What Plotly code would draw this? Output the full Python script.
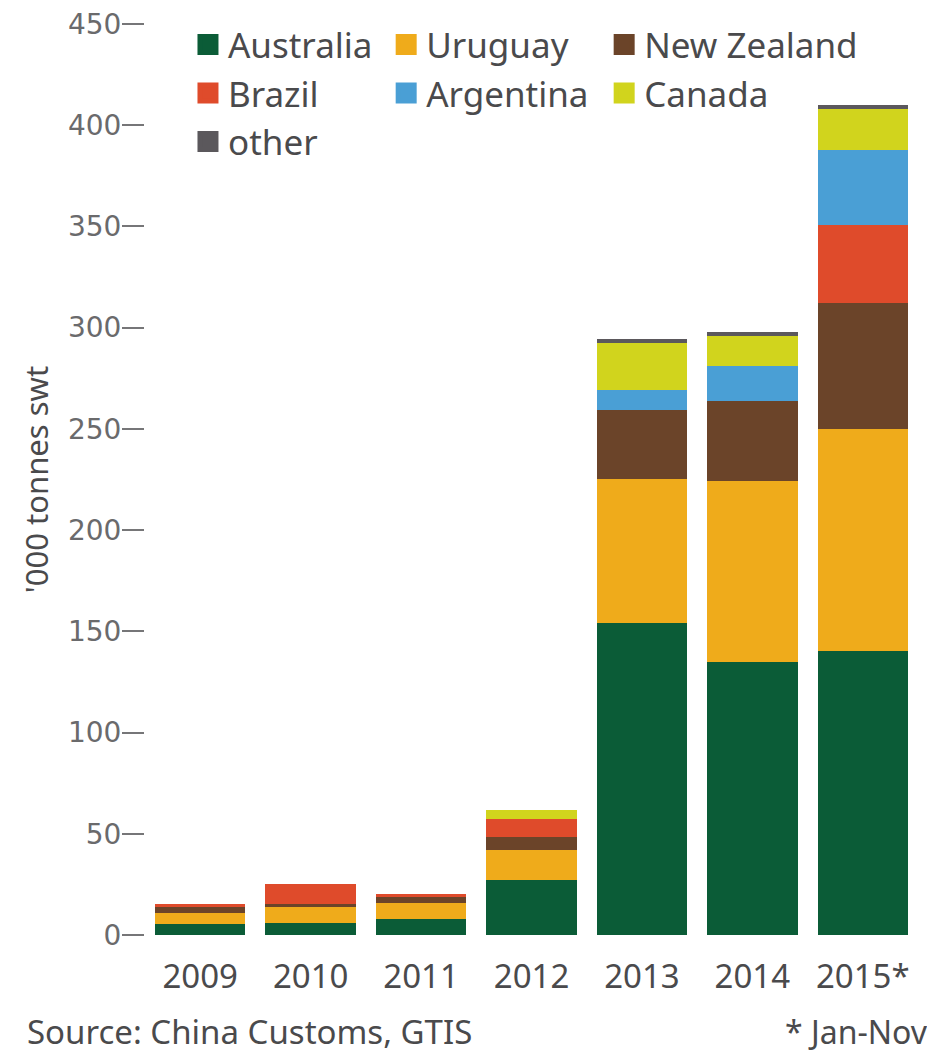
import plotly.graph_objects as go

# China imports by origin, '000 tonnes swt
years = ["2009", "2010", "2011", "2012", "2013", "2014", "2015*"]
australia = [5.4, 5.9, 7.7, 27.2, 154.3, 135.0, 140.3]
uruguay = [5.4, 8.0, 7.9, 14.8, 70.8, 89.4, 109.5]
new_zealand = [3.0, 1.3, 3.0, 6.6, 34.2, 39.4, 62.3]
brazil = [1.5, 9.9, 1.5, 8.6, 0.0, 0.0, 38.6]
argentina = [0.0, 0.0, 0.0, 0.0, 9.9, 17.3, 37.1]
canada = [0.0, 0.0, 0.0, 4.6, 23.2, 14.8, 20.1]
other = [0.0, 0.0, 0.0, 0.0, 2.0, 2.0, 2.1]

# name, values, colour, legend column
series = [
    ("Australia", australia, "#0b5c37", "legend"),
    ("Uruguay", uruguay, "#efab1b", "legend2"),
    ("New Zealand", new_zealand, "#6b4429", "legend3"),
    ("Brazil", brazil, "#df4b2b", "legend"),
    ("Argentina", argentina, "#4a9fd5", "legend2"),
    ("Canada", canada, "#d1d41d", "legend3"),
    ("other", other, "#5b585c", "legend"),
]

FONT = "Noto Sans, Open Sans, sans-serif"
GREY = "#4a4a4c"
TICKGREY = "#6a6a6c"

fig = go.Figure()

for name, vals, color, leg in series:
    fig.add_trace(
        go.Bar(
            x=years,
            y=vals,
            name=name,
            legendgroup=name,
            marker=dict(color=color, line=dict(width=0)),
            showlegend=False,
        )
    )
    # bigger square swatch for the legend
    fig.add_trace(
        go.Scatter(
            x=[None],
            y=[None],
            mode="markers",
            name=name,
            legendgroup=name,
            legend=leg,
            marker=dict(symbol="square", size=16, color=color,
                        line=dict(width=5, color=color)),
        )
    )


def column_legend(x):
    return dict(
        orientation="v",
        x=x,
        y=1.0095,
        xanchor="left",
        yanchor="top",
        font=dict(family=FONT, size=35, color=GREY),
        itemsizing="trace",
        tracegroupgap=0,
        bgcolor="rgba(0,0,0,0)",
    )


# the page has an 8px body margin, so the figure is a bit smaller than the window
fig.update_layout(
    width=927,
    height=1045,
    barmode="stack",
    bargap=0.18,
    plot_bgcolor="white",
    paper_bgcolor="white",
    margin=dict(l=137, r=17, t=16, b=118, autoexpand=False),
    font=dict(family=FONT, color=GREY),
    legend=column_legend(0.0556),
    legend2=column_legend(0.312),
    legend3=column_legend(0.594),
    xaxis=dict(
        showgrid=False,
        showline=False,
        ticks="",
        ticklabelstandoff=19,
        tickfont=dict(family=FONT, size=33, color=GREY),
    ),
    yaxis=dict(
        range=[0, 450],
        dtick=50,
        showgrid=False,
        zeroline=False,
        showline=False,
        ticks="outside",
        ticklen=22,
        tickwidth=2,
        tickcolor="#767678",
        ticklabelstandoff=-5,
        ticklabeloverflow="allow",
        tickfont=dict(family="DejaVu Sans", size=28, color=TICKGREY),
        title=dict(
            text="'000 tonnes swt",
            font=dict(family=FONT, size=31, color=GREY),
            standoff=10,
        ),
    ),
    annotations=[
        dict(
            text="Source: China Customs, GTIS",
            xref="paper",
            yref="paper",
            x=-0.155,
            y=-0.106,
            xanchor="left",
            yanchor="middle",
            showarrow=False,
            font=dict(family=FONT, size=33, color=GREY),
        ),
        dict(
            text="* Jan-Nov",
            xref="paper",
            yref="paper",
            x=1.0155,
            y=-0.106,
            xanchor="right",
            yanchor="middle",
            showarrow=False,
            font=dict(family=FONT, size=32, color=GREY),
        ),
    ],
)

fig.write_html("out.html")
